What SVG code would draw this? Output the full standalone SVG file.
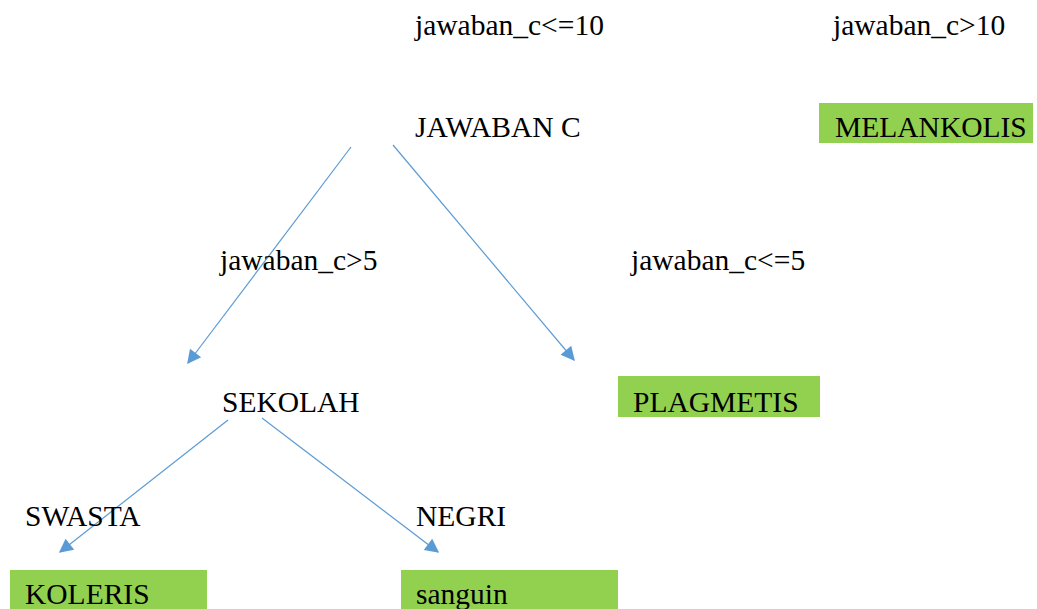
<svg xmlns="http://www.w3.org/2000/svg" width="1037" height="609" viewBox="0 0 1037 609">
  <style>
    text { font-family: "Liberation Serif", "DejaVu Serif", serif; font-size: 29.5px; fill: #000; }
    .leaf { fill: #92d050; }
    .edge { stroke: #5b9bd5; stroke-width: 1.2; fill: none; marker-end: url(#arrow); }
  </style>
  <defs>
    <marker id="arrow" viewBox="0 0 10 10" refX="9" refY="5" markerWidth="16" markerHeight="14" markerUnits="userSpaceOnUse" orient="auto">
      <path d="M0,0 L10,5 L0,10 z" fill="#5b9bd5"/>
    </marker>
  </defs>
  <rect width="1037" height="609" fill="#fff"/>

  <g id="connectors">
    <line class="edge" x1="351" y1="147" x2="188" y2="363"/>
    <line class="edge" x1="393" y1="145" x2="574" y2="360"/>
    <line class="edge" x1="228" y1="420" x2="60" y2="552"/>
    <line class="edge" x1="262" y1="418" x2="438" y2="552"/>
  </g>

  <g id="label-c-le-10"><text x="415" y="35">jawaban_c&lt;=10</text></g>
  <g id="label-c-gt-10"><text x="833" y="35">jawaban_c&gt;10</text></g>

  <g id="node-jawaban-c"><text x="415" y="137">JAWABAN C</text></g>
  <g id="node-melankolis">
    <rect class="leaf" x="819" y="103" width="214" height="40"/>
    <text x="835" y="137">MELANKOLIS</text>
  </g>

  <g id="label-c-gt-5"><text x="220" y="270">jawaban_c&gt;5</text></g>
  <g id="label-c-le-5"><text x="631" y="270">jawaban_c&lt;=5</text></g>

  <g id="node-sekolah"><text x="222" y="412">SEKOLAH</text></g>
  <g id="node-plagmetis">
    <rect class="leaf" x="618" y="376" width="202" height="41"/>
    <text x="633" y="412">PLAGMETIS</text>
  </g>

  <g id="label-swasta"><text x="25" y="526">SWASTA</text></g>
  <g id="label-negri"><text x="416" y="526">NEGRI</text></g>

  <g id="node-koleris">
    <rect class="leaf" x="10" y="570" width="197" height="39"/>
    <text x="25" y="604">KOLERIS</text>
  </g>
  <g id="node-sanguin">
    <rect class="leaf" x="401" y="570" width="217" height="39"/>
    <text x="416" y="604">sanguin</text>
  </g>
</svg>
